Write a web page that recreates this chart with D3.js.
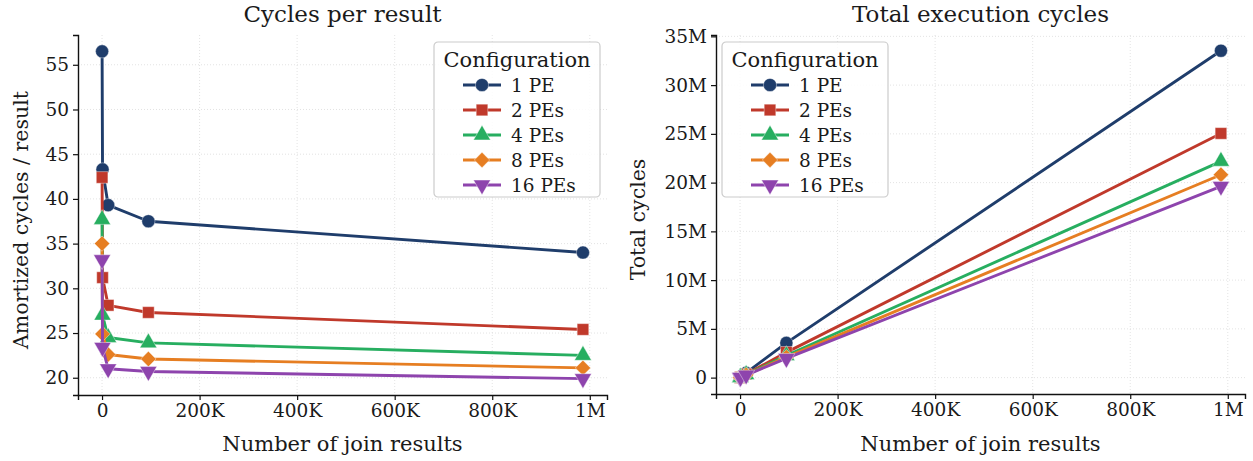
<!DOCTYPE html>
<html>
<head>
<meta charset="utf-8">
<script src="https://cdn.jsdelivr.net/npm/d3@7"></script>
<style>
  body { margin: 0; background: #fff; }
</style>
</head>
<body>
<div id="chart"></div>
<script>
// join result counts (x values)
let joins = [100, 1000, 12500, 95000, 986000];

let configs = ["1 PE", "2 PEs", "4 PEs", "8 PEs", "16 PEs"];
let colors = ["#1f3d6b", "#c0392b", "#27ae60", "#e67e22", "#8e44ad"];
let shapes = ["circle", "square", "triangle", "diamond", "triangledown"];

// amortized cycles per result, one array per config
let cpr1 = [56.5, 43.3, 39.3, 37.5, 34.0];
let cpr2 = [42.4, 31.2, 28.1, 27.3, 25.4];
let cpr4 = [37.7, 27.0, 24.5, 23.9, 22.5];
let cpr8 = [35.0, 24.9, 22.6, 22.1, 21.1];
let cpr16 = [33.2, 23.4, 21.0, 20.7, 19.9];
let cprAll = [cpr1, cpr2, cpr4, cpr8, cpr16];

let xTicks = [0, 200000, 400000, 600000, 800000, 1000000];
let xTickLabels = ["0", "200K", "400K", "600K", "800K", "1M"];
let yTicksLeft = [20, 25, 30, 35, 40, 45, 50, 55];
let yTicksRight = [0, 5e6, 10e6, 15e6, 20e6, 25e6, 30e6, 35e6];
let yTickLabelsRight = ["0", "5M", "10M", "15M", "20M", "25M", "30M", "35M"];

let width = 1253, height = 461;
let font = "'DejaVu Serif', serif";

let svg = d3.select("#chart")
  .append("svg")
  .attr("width", width)
  .attr("height", height);

function markerPath(shape)
{
  if (shape === "circle") return d3.symbol().type(d3.symbolCircle).size(135)();
  if (shape === "square") return d3.symbol().type(d3.symbolSquare).size(135)();
  if (shape === "diamond") return d3.symbol().type(d3.symbolSquare).size(118)();
  return d3.symbol().type(d3.symbolTriangle).size(125)();
}

function markerRotate(shape)
{
  if (shape === "diamond") return 45;
  if (shape === "triangledown") return 180;
  return 0;
}

function drawMarker(g, shape, color, x, y)
{
  g.append("path")
    .attr("d", markerPath(shape))
    .attr("transform", "translate(" + x + "," + y + ") rotate(" + markerRotate(shape) + ")")
    .attr("fill", color)
    .attr("stroke", "#fff")
    .attr("stroke-width", 0.4);
}

function label(g, size)
{
  return g.append("text").style("font-family", font).style("font-size", size + "px").style("fill", "#1a1a1a");
}

function drawPanel(p)
{
  let g = svg.append("g");

  let x = d3.scaleLinear().domain([-49300, 1035300]).range([p.left, p.right]);
  let y = d3.scaleLinear().domain(p.ydomain).range([p.bottom, p.top]);

  // grid
  g.selectAll("xgrid").data(xTicks).enter().append("line")
    .attr("x1", d => x(d)).attr("x2", d => x(d))
    .attr("y1", p.top).attr("y2", p.bottom)
    .attr("stroke", "#dcdcdc").attr("stroke-width", 0.8).attr("stroke-dasharray", "1,2");
  g.selectAll("ygrid").data(p.yticks).enter().append("line")
    .attr("x1", p.left).attr("x2", p.right)
    .attr("y1", d => y(d)).attr("y2", d => y(d))
    .attr("stroke", "#dcdcdc").attr("stroke-width", 0.8).attr("stroke-dasharray", "1,2");

  // axes
  let xAxis = d3.axisBottom(x).tickValues(xTicks)
    .tickFormat((d, i) => xTickLabels[i]).tickSizeOuter(0).tickSize(5).tickPadding(4);
  let yAxis = d3.axisLeft(y).tickValues(p.yticks)
    .tickFormat(p.yformat).tickSizeOuter(0).tickSize(5).tickPadding(4);

  let gx = g.append("g").attr("transform", "translate(0," + p.bottom + ")").call(xAxis);
  let gy = g.append("g").attr("transform", "translate(" + p.left + ",0)").call(yAxis);
  [gx, gy].forEach(a => {
    a.select(".domain").attr("stroke", "#111").attr("stroke-width", 1.4);
    a.selectAll(".tick line").attr("stroke", "#111").attr("stroke-width", 1.2);
    a.selectAll(".tick text").style("font-size", "18.5px").style("fill", "#1a1a1a")
      .style("font-family", font);
  });

  // series
  let line = d3.line().x(d => x(d[0])).y(d => y(d[1]));
  for (let s = 0; s < configs.length; s++)
  {
    let pts = joins.map((j, i) => [j, p.values(s, i)]);
    g.append("path")
      .datum(pts)
      .attr("d", line)
      .attr("fill", "none")
      .attr("stroke", colors[s])
      .attr("stroke-width", 2.9)
      .attr("stroke-linejoin", "round");
    pts.forEach(d => drawMarker(g, shapes[s], colors[s], x(d[0]), y(d[1])));
  }

  // titles
  let cx = (p.left + p.right) / 2;
  label(g, 23).attr("x", cx).attr("y", 22).attr("text-anchor", "middle").text(p.title);
  label(g, 21).attr("x", cx).attr("y", 451).attr("text-anchor", "middle").text("Number of join results");
  label(g, 20.5)
    .attr("transform", "translate(" + p.ylabelX + "," + ((p.top + p.bottom) / 2 + 5) + ") rotate(-90)")
    .attr("text-anchor", "middle").attr("dominant-baseline", "central")
    .text(p.ylabel);

  // legend
  let lg = g.append("g").attr("transform", "translate(" + p.legendX + ",42)");
  lg.append("rect").attr("width", 166).attr("height", 155).attr("rx", 4)
    .attr("fill", "#fff").attr("fill-opacity", 0.85)
    .attr("stroke", "#cccccc").attr("stroke-width", 1.2);
  label(lg, 21).attr("x", 83).attr("y", 25).attr("text-anchor", "middle").text("Configuration");
  for (let s = 0; s < configs.length; s++)
  {
    let yy = 43 + s * 25;
    lg.append("line").attr("x1", 29).attr("x2", 67).attr("y1", yy).attr("y2", yy)
      .attr("stroke", colors[s]).attr("stroke-width", 2.9);
    drawMarker(lg, shapes[s], colors[s], 48, yy);
    label(lg, 18.5).attr("x", 77).attr("y", yy).attr("dominant-baseline", "central").text(configs[s]);
  }
}

drawPanel({
  left: 78, right: 607, top: 35, bottom: 395,
  ydomain: [18.07, 58.33],
  yticks: yTicksLeft,
  yformat: d => d,
  values: (s, i) => cprAll[s][i],
  title: "Cycles per result",
  ylabel: "Amortized cycles / result",
  ylabelX: 21,
  legendX: 434
});

drawPanel({
  left: 716, right: 1245, top: 35, bottom: 394,
  ydomain: [-1.68e6, 35.14e6],
  yticks: yTicksRight,
  yformat: (d, i) => yTickLabelsRight[i],
  values: (s, i) => cprAll[s][i] * joins[i],
  title: "Total execution cycles",
  ylabel: "Total cycles",
  ylabelX: 638,
  legendX: 722
});
</script>
</body>
</html>
